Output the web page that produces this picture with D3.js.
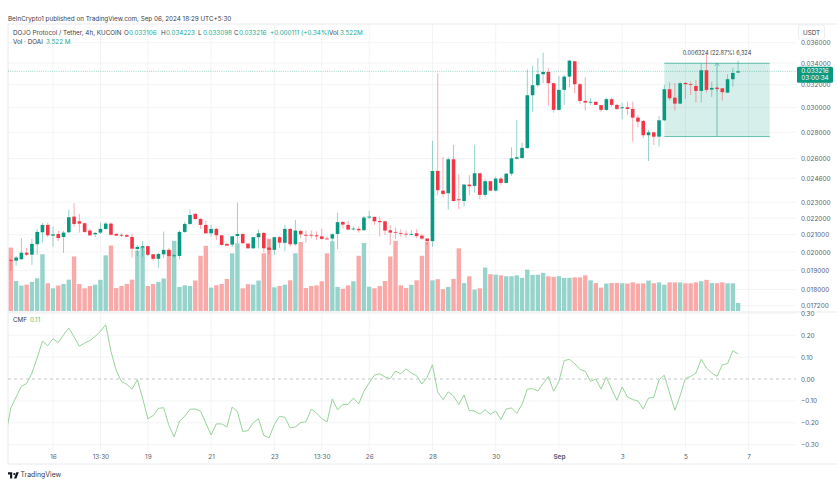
<!doctype html>
<html>
<head>
  <meta charset="utf-8">
  <script src="https://cdnjs.cloudflare.com/ajax/libs/d3/7.8.5/d3.min.js"></script>
  <style>
    html, body { margin: 0; background: #fff; overflow: hidden; }
    text { font-family: Inter, "Open Sans", sans-serif; font-size: 6.3px; fill: #3a3e4a; }
    .axis text { fill: #5d606b; font-size: 6.4px; }
    .axis path, .axis line { display: none; }
  </style>
</head>
<body>
<svg id="chart" width="837" height="487"></svg>
<script>
  // candles, in units of 0.001 USDT, 4h bars from left to right
  var opens = [19.56,19.52,19.60,19.96,19.85,20.44,21.14,21.58,20.94,21.04,20.86,21.14,22.09,21.80,21.68,21.24,21.02,21.12,21.34,21.66,
    21.04,20.99,20.97,20.86,20.17,20.25,20.33,19.87,19.62,19.87,20.12,19.79,19.78,21.16,21.64,22.26,21.94,21.58,21.08,21.34,
    20.96,20.46,20.42,20.92,21.04,20.48,20.21,20.85,21.10,20.25,20.12,20.85,20.52,21.34,20.44,21.22,20.99,20.99,20.96,20.90,
    20.77,20.77,21.04,21.76,21.58,21.32,21.34,21.26,22.03,22.07,21.82,21.80,21.26,21.16,21.10,21.05,20.99,21.08,20.94,20.77,
    20.62,25.11,23.76,23.59,25.95,23.19,23.08,24.17,24.08,24.95,23.48,24.40,23.76,24.58,24.28,24.92,25.99,26.04,26.78,31.06,
    31.95,32.95,33.16,32.13,29.81,31.53,32.73,34.17,32.04,30.57,30.43,30.49,30.21,29.81,30.72,30.23,29.95,30.03,29.89,29.17,
    28.90,27.76,27.99,27.65,28.95,31.59,30.85,30.34,32.15,32.04,31.88,31.44,33.32,31.56,31.73,31.67,31.29,32.49,33.106];
  var highs = [19.62,19.78,20.80,20.23,20.75,21.34,21.70,21.72,21.48,21.24,21.22,22.51,22.93,22.26,21.72,21.34,21.16,21.72,21.75,21.72,
    21.10,21.07,21.04,21.04,20.40,20.63,20.35,19.89,19.95,21.18,20.23,19.89,21.24,21.76,22.55,22.32,22.01,21.82,21.58,21.40,
    20.98,20.52,20.92,22.97,21.05,20.48,20.86,21.32,21.16,20.69,20.86,20.92,21.58,21.40,21.88,21.28,21.24,21.24,21.20,21.34,
    20.89,21.08,22.34,21.82,21.82,21.48,21.48,22.13,22.45,22.09,22.09,21.82,21.58,21.42,21.32,21.24,21.28,21.32,21.04,20.80,
    27.32,33.04,26.10,26.10,27.02,24.90,24.21,24.83,27.02,24.97,24.56,24.42,24.70,24.70,24.97,26.84,28.98,27.19,33.41,33.75,
    34.47,35.01,33.51,32.15,32.79,32.88,34.30,34.20,32.15,32.67,30.85,30.57,30.23,30.85,30.85,30.32,30.43,30.51,30.51,29.39,
    28.98,28.18,28.02,29.31,31.97,32.22,32.13,32.22,32.24,32.27,32.43,33.98,34.95,32.27,31.80,31.71,32.95,33.57,34.223];
  var lows = [18.96,19.24,19.56,19.78,19.29,19.84,20.52,20.86,20.30,20.63,19.95,21.10,21.48,21.12,21.12,20.92,20.86,21.04,21.28,20.96,
    20.92,20.86,20.86,19.69,19.78,19.74,19.78,19.51,19.13,19.67,19.74,19.67,19.60,21.10,21.58,21.88,21.34,21.04,20.88,20.69,
    20.35,20.35,20.27,20.50,20.46,20.19,20.17,20.21,19.98,19.87,19.84,20.23,20.06,20.30,20.35,20.79,20.53,20.79,20.69,20.69,
    20.69,20.59,20.16,21.36,21.26,21.24,21.12,21.24,21.93,21.58,20.88,20.98,20.40,20.73,20.88,20.82,20.96,20.79,20.69,20.40,
    20.30,23.48,23.32,22.51,23.03,22.55,22.72,23.46,23.63,23.19,23.36,23.72,23.70,24.12,24.26,24.77,25.95,25.99,26.73,29.67,
    31.77,32.13,30.17,29.58,29.75,30.23,31.77,31.24,30.32,29.75,30.23,30.21,29.64,29.72,30.06,29.81,29.03,29.39,27.27,28.39,
    27.53,25.83,27.02,26.89,28.89,30.60,29.75,30.29,30.74,31.09,30.43,30.43,31.29,30.91,31.44,30.60,31.27,31.82,33.098];
  var closes = [19.53,19.69,19.96,19.85,20.46,21.16,21.58,20.96,21.02,20.80,21.12,22.05,21.64,21.66,21.16,20.96,21.10,21.34,21.66,20.99,
    20.94,20.94,20.88,20.19,20.29,20.33,19.84,19.62,19.89,20.12,19.78,19.81,21.16,21.64,22.19,21.94,21.58,21.08,21.34,20.96,
    20.40,20.36,20.90,21.04,20.50,20.21,20.85,21.08,20.21,20.12,20.85,20.53,21.34,20.44,21.24,21.02,20.94,20.96,20.90,20.75,
    20.73,21.02,21.75,21.60,21.30,21.36,21.26,22.03,22.09,21.80,21.75,21.24,21.12,21.12,21.05,21.04,21.04,20.92,20.77,20.62,
    25.11,23.79,23.54,25.95,23.08,23.13,24.17,24.06,24.95,23.48,24.40,23.76,24.58,24.28,24.92,26.02,26.10,26.79,31.06,31.95,
    32.95,33.16,32.13,29.81,31.53,32.73,34.23,32.04,30.57,30.43,30.49,30.23,29.81,30.72,30.23,29.89,30.03,29.89,29.17,28.84,
    27.76,27.99,27.65,28.95,31.59,30.80,30.34,32.13,32.04,31.97,31.44,33.32,31.53,31.71,31.62,31.33,32.49,33.07,33.216];

  // volume in millions, one per candle
  var volumes = [27.9,13.2,11.2,11.6,12.8,14.4,25.0,12.2,10.0,11.2,11.9,13.8,24.0,11.9,10.0,11.0,11.6,13.7,24.5,28.8,
    10.1,11.0,11.9,13.8,26.6,28.0,11.0,11.9,12.8,14.3,26.9,30.9,10.6,11.3,11.0,13.4,24.3,28.7,10.3,11.3,
    11.9,14.1,25.4,29.8,10.0,11.8,11.6,13.4,25.4,31.8,10.4,11.0,11.6,13.5,25.4,30.4,10.1,11.0,11.3,13.1,
    25.4,30.7,10.6,9.8,11.3,13.1,24.3,30.0,10.7,10.0,11.0,13.2,24.0,30.9,11.3,10.1,11.5,13.5,24.3,30.4,
    13.5,14.0,9.6,10.6,14.1,27.6,12.3,15.3,9.4,10.0,19.1,16.2,16.0,15.7,15.3,15.3,15.7,14.6,18.2,15.9,
    16.0,16.8,15.3,15.0,15.3,14.6,14.6,14.8,14.8,15.7,13.5,12.3,10.3,12.1,12.3,12.3,12.2,12.1,12.6,12.1,
    12.2,13.4,12.2,12.6,11.6,12.6,12.6,12.6,12.2,12.2,12.6,13.1,13.7,12.3,12.2,12.6,12.2,12.2,3.522];

  // CMF starts one bar before the first candle, that point is clipped by the pane
  var cmfValues = [-0.260,-0.132,-0.082,-0.033,-0.021,0.027,0.096,0.173,0.152,0.184,0.166,0.202,0.233,0.192,0.150,0.164,0.175,0.195,0.217,0.248,
    0.126,0.038,-0.012,-0.024,-0.046,-0.003,-0.087,-0.182,-0.167,-0.134,-0.131,-0.213,-0.264,-0.193,-0.170,-0.138,-0.137,-0.147,-0.201,-0.255,
    -0.205,-0.205,-0.219,-0.128,-0.149,-0.240,-0.236,-0.199,-0.182,-0.258,-0.269,-0.208,-0.170,-0.175,-0.223,-0.219,-0.199,-0.195,-0.138,-0.155,
    -0.181,-0.196,-0.091,-0.141,-0.116,-0.116,-0.087,-0.114,-0.056,-0.018,0.018,0.024,0.009,0.002,0.036,0.024,0.046,0.027,0.015,-0.023,
    0.008,0.065,-0.059,-0.094,-0.059,-0.078,-0.116,-0.073,-0.144,-0.146,-0.161,-0.140,-0.161,-0.146,-0.185,-0.137,-0.132,-0.157,-0.116,-0.046,
    -0.044,-0.055,-0.021,0.011,-0.056,-0.011,0.084,0.090,0.070,0.044,0.035,-0.011,0,-0.046,0.009,-0.046,-0.097,-0.036,-0.082,-0.094,
    -0.100,-0.137,-0.087,-0.084,-0.003,0.017,-0.064,-0.143,-0.076,0.002,0.012,0.027,0.090,0.050,0.027,0.012,0.064,0.070,0.129,0.114];

  var priceTicks = [0.036,0.034,0.032,0.030,0.028,0.026,0.0246,0.023,0.022,0.021,0.020,0.019,0.018,0.0172];
  var cmfTicks = [0.3,0.2,0.1,0,-0.1,-0.2,-0.3];
  var timeTickBars = [8,17,26,38,50,59,68,80,92,104,116,128,140];
  var timeTickLabels = ["16","13:30","19","21","23","13:30","26","28","30","Sep","3","5","7"];

  var lastPrice = 0.033216;
  var rangeBars = [124,144];
  var rangePrices = [0.027656,0.03398];

  var green = "#089981", red = "#f23645", gridColor = "#f3f4f5";
  var volGreen = "#96d4cb", volRed = "#f9aaa8";
  var plotLeft = 8, plotRight = 796, mainTop = 24, mainBottom = 311, cmfBottom = 450, chartBottom = 464;

  var svg = d3.select("#chart");

  var x = d3.scaleLinear().domain([0,138]).range([10.84,738.1]);
  var y = d3.scaleLog().domain([0.0172,0.036]).range([305.7,42.7]);
  var yVol = d3.scaleLinear().domain([0,32]).range([mainBottom,238.3]);
  var yCmf = d3.scaleLinear().domain([-0.3,0.3]).range([444.7,313.3]);

  svg.append("defs").append("clipPath").attr("id","cmf-clip")
    .append("rect").attr("x",plotLeft).attr("y",mainBottom).attr("width",plotRight-plotLeft).attr("height",cmfBottom-mainBottom);

  // grid
  var grid = svg.append("g").attr("stroke",gridColor).attr("stroke-width",1);
  grid.selectAll(".gv").data(timeTickBars).enter().append("line")
    .attr("x1",d => x(d)).attr("x2",d => x(d)).attr("y1",mainTop).attr("y2",cmfBottom);
  grid.selectAll(".gp").data(priceTicks).enter().append("line")
    .attr("x1",plotLeft).attr("x2",plotRight).attr("y1",d => y(d)).attr("y2",d => y(d));
  grid.selectAll(".gc").data(cmfTicks.filter(d => d != 0)).enter().append("line")
    .attr("x1",plotLeft).attr("x2",plotRight).attr("y1",d => yCmf(d)).attr("y2",d => yCmf(d));

  // frame
  var frame = svg.append("g").attr("stroke","#e9eaec").attr("stroke-width",1);
  frame.append("line").attr("x1",plotLeft).attr("x2",837).attr("y1",mainTop).attr("y2",mainTop);
  frame.append("line").attr("x1",plotLeft).attr("x2",plotLeft).attr("y1",mainTop).attr("y2",chartBottom);
  frame.append("line").attr("x1",plotLeft).attr("x2",837).attr("y1",mainBottom+1).attr("y2",mainBottom+1);
  frame.append("line").attr("x1",plotLeft).attr("x2",837).attr("y1",chartBottom).attr("y2",chartBottom);

  // volume
  svg.append("g").selectAll("rect").data(volumes).enter().append("rect")
    .attr("x",(d,i) => x(i)-2.2).attr("width",4.4)
    .attr("y",d => yVol(d)).attr("height",d => yVol(0)-yVol(d))
    .attr("fill",(d,i) => closes[i] >= opens[i] ? volGreen : volRed);

  // measure box
  var box = svg.append("g");
  box.append("rect")
    .attr("x",x(rangeBars[0])).attr("width",x(rangeBars[1])-x(rangeBars[0]))
    .attr("y",y(rangePrices[1])).attr("height",y(rangePrices[0])-y(rangePrices[1]))
    .attr("fill",green).attr("opacity",0.16);
  box.selectAll("line.edge").data(rangePrices).enter().append("line")
    .attr("x1",x(rangeBars[0])).attr("x2",x(rangeBars[1]))
    .attr("y1",d => y(d)).attr("y2",d => y(d))
    .attr("stroke",green).attr("stroke-opacity",0.6).attr("stroke-width",1);
  var midX = (x(rangeBars[0])+x(rangeBars[1]))/2;
  box.append("line").attr("x1",midX).attr("x2",midX).attr("y1",y(rangePrices[0])).attr("y2",y(rangePrices[1]))
    .attr("stroke",green).attr("stroke-opacity",0.4).attr("stroke-width",1.3);
  box.append("path")
    .attr("d",d3.line()([[midX-2.6,y(rangePrices[1])+2.8],[midX,y(rangePrices[1])],[midX+2.6,y(rangePrices[1])+2.8]]))
    .attr("fill","none").attr("stroke",green).attr("stroke-opacity",0.45).attr("stroke-width",1);
  box.append("text").attr("x",midX).attr("y",y(rangePrices[1])-8).attr("text-anchor","middle")
    .style("font-size","5.6px").text("0.006324 (22.87%) 6,324");

  // last price line
  svg.append("line").attr("x1",plotLeft).attr("x2",plotRight).attr("y1",y(lastPrice)).attr("y2",y(lastPrice))
    .attr("stroke",green).attr("stroke-opacity",0.5).attr("stroke-width",0.8).attr("stroke-dasharray","1 1.2");

  // candles
  var candles = svg.append("g").selectAll("g").data(opens).enter().append("g")
    .attr("fill",(d,i) => closes[i] >= opens[i] ? green : red)
    .attr("stroke",(d,i) => closes[i] >= opens[i] ? green : red);
  candles.append("line")
    .attr("x1",(d,i) => x(i)).attr("x2",(d,i) => x(i))
    .attr("y1",(d,i) => y(highs[i]/1000)).attr("y2",(d,i) => y(lows[i]/1000))
    .attr("stroke-width",1).attr("stroke-opacity",0.42);
  candles.append("rect")
    .attr("x",(d,i) => x(i)-1.8).attr("width",3.6)
    .attr("y",(d,i) => y(Math.max(opens[i],closes[i])/1000))
    .attr("height",(d,i) => Math.max(0.8,Math.abs(y(opens[i]/1000)-y(closes[i]/1000))))
    .attr("stroke","none");

  // CMF
  svg.append("line").attr("x1",plotLeft).attr("x2",plotRight).attr("y1",yCmf(0)).attr("y2",yCmf(0))
    .attr("stroke","#c4c6ca").attr("stroke-width",1).attr("stroke-dasharray","3 3");
  svg.append("path").datum(cmfValues)
    .attr("clip-path","url(#cmf-clip)")
    .attr("fill","none").attr("stroke","#97d49a").attr("stroke-width",1)
    .attr("d",d3.line().x((d,i) => x(i-1)).y(d => yCmf(d)));

  // axes
  svg.append("g").attr("class","axis").attr("transform","translate(797,0)")
    .call(d3.axisRight(y).tickValues(priceTicks).tickSize(0).tickPadding(4).tickFormat(d => d.toFixed(6)));
  svg.append("g").attr("class","axis").attr("transform","translate(797,0)")
    .call(d3.axisRight(yCmf).tickValues(cmfTicks).tickSize(0).tickPadding(4).tickFormat(d => d3.format(".2f")(d).replace("-","\u2212")));
  var xAxis = svg.append("g").attr("class","axis").attr("transform","translate(0,454)")
    .call(d3.axisBottom(x).tickValues(timeTickBars).tickSize(0).tickPadding(0).tickFormat((d,i) => timeTickLabels[i]));
  xAxis.selectAll("text").attr("dy","0.85em")
    .filter((d,i) => timeTickLabels[i] == "Sep").style("font-weight","700");

  // USDT button
  svg.append("rect").attr("x",798.5).attr("y",25).attr("width",26).attr("height",14).attr("rx",2)
    .attr("fill","#fff").attr("stroke","#eceef0");
  svg.append("text").attr("x",803).attr("y",34.5).text("USDT");

  // last price label
  var tag = svg.append("g");
  tag.append("rect").attr("x",797).attr("y",y(lastPrice)-4.5).attr("width",36).attr("height",16).attr("rx",1.5).attr("fill",green);
  tag.append("text").attr("x",815).attr("y",y(lastPrice)+1.7).attr("text-anchor","middle")
    .style("fill","#fff").text(lastPrice.toFixed(6));
  tag.append("text").attr("x",815).attr("y",y(lastPrice)+9).attr("text-anchor","middle")
    .style("fill","#fff").text("03:00:34");

  // header
  svg.append("text").attr("x",8).attr("y",20.5).text("BeInCrypto1 published on TradingView.com, Sep 06, 2024 18:29 UTC+5:30");
  var legendParts = [
    [13,"DOJO Protocol / Tether, 4h, KUCOIN",0],[124,"O",0],[129,"0.033106",1],[161,"H",0],[166,"0.034223",1],
    [198,"L",0],[203,"0.033098",1],[234,"C",0],[239,"0.033216",1],[270,"+0.000111 (+0.34%)",1],[329,"Vol",0],[340,"3.522M",1]
  ];
  svg.append("g").selectAll("text").data(legendParts).enter().append("text")
    .attr("x",d => d[0]).attr("y",34.5).text(d => d[1])
    .style("fill",d => d[2] ? "#22ab94" : null);
  svg.append("text").attr("x",13).attr("y",43.7).text("Vol \u00b7 DOAI");
  svg.append("text").attr("x",46).attr("y",43.7).style("fill","#22ab94").text("3.522 M");
  svg.append("text").attr("x",13).attr("y",322).text("CMF");
  svg.append("text").attr("x",30).attr("y",322).style("fill","#66bb6a").text("0.11");

  // TradingView mark
  svg.append("path").attr("transform","translate(8,470.5) scale(0.3)").attr("fill","#131722")
    .attr("d","M14 6H0v7h7v14h7V6zM28 27h-8l7.5-21H36L28 27z");
  svg.append("circle").attr("cx",14.3).attr("cy",474).attr("r",1.1).attr("fill","#131722");
  svg.append("text").attr("x",20.5).attr("y",477).style("font-size","6.9px").text("TradingView");
</script>
</body>
</html>
